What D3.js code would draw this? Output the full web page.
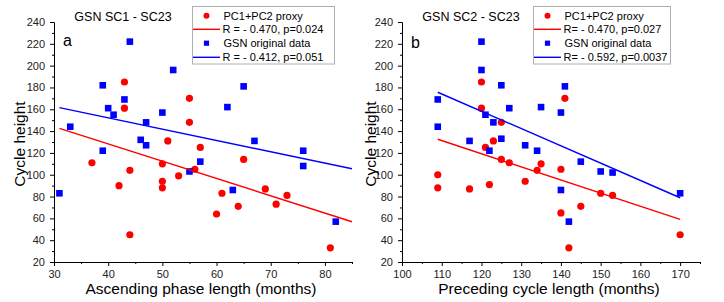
<!DOCTYPE html>
<html>
<head>
<meta charset="utf-8">
<script src="https://cdn.jsdelivr.net/npm/d3@7"></script>
<style>
  body { margin: 0; background: #fff; }
  svg { display: block; font-family: "Liberation Sans", Arial, sans-serif; }
  .tick text { fill: #222; font-size: 11px; }
  .axis path, .axis line { stroke: #000; }
</style>
</head>
<body>
<svg id="svg" width="724" height="302"></svg>
<script>
// panel a : ascending phase length vs cycle height
var ascRedX  = [43, 43, 55, 55, 51, 57, 37, 44, 42, 44, 50, 50, 50, 53, 56, 65, 61, 60, 64, 69, 71, 73, 81];
var ascRedY  = [185, 161, 170, 148, 131, 125, 111, 104, 90, 45, 110, 94, 88, 99, 105, 114, 83, 64, 71, 87, 73, 81, 33];
var ascBlueX = [33, 39, 44, 40, 41, 43, 47, 46, 47, 50, 52, 39, 62, 65, 67, 76, 55, 57, 63, 76, 82, 31];
var ascBlueY = [144, 182, 222, 161, 155, 169, 148, 132, 127, 157, 196, 122, 162, 181, 131, 122, 103, 112, 86, 108, 57, 83];
// fitted lines, end points
var ascFitX     = [31, 85];
var ascFitRedY  = [142.5, 56.9];
var ascFitBlueY = [161.5, 105.5];

// panel b : preceding cycle length vs cycle height
var preRedX  = [120, 120, 125, 123, 121, 141, 109, 109, 117, 122, 125, 127, 131, 134, 135, 140, 140, 142, 145, 150, 153, 170];
var preRedY  = [185, 161, 148, 131, 125, 170, 100, 88, 87, 91, 114, 111, 94, 104, 110, 105, 65, 33, 71, 83, 81, 45];
var preBlueX = [109, 109, 120, 120, 125, 121, 123, 117, 125, 127, 135, 140, 141, 131, 122, 134, 145, 150, 153, 140, 142, 170];
var preBlueY = [169, 144, 222, 196, 182, 155, 148, 131, 133, 161, 162, 157, 181, 127, 122, 122, 112, 103, 102, 86, 57, 83];
var preFitX     = [109, 170];
var preFitRedY  = [132.5, 59.1];
var preFitBlueY = [175.6, 78.9];

var yTicks  = [20, 40, 60, 80, 100, 120, 140, 160, 180, 200, 220, 240];
var yMinor  = [30, 50, 70, 90, 110, 130, 150, 170, 190, 210, 230];
var ascTicks = [30, 40, 50, 60, 70, 80];
var ascMinor = [35, 45, 55, 65, 75, 85];
var preTicks = [100, 110, 120, 130, 140, 150, 160, 170];
var preMinor = [105, 115, 125, 135, 145, 155, 165, 175];

var svg = d3.select("#svg");

var panels = [
  {
    title: "GSN SC1 - SC23", letter: "a", xlabel: "Ascending phase length (months)",
    xdom: [30, 85], xr: [54, 352], ticks: ascTicks, minor: ascMinor,
    redX: ascRedX, redY: ascRedY, blueX: ascBlueX, blueY: ascBlueY,
    fitX: ascFitX, fitRed: ascFitRedY, fitBlue: ascFitBlueY,
    legend: ["PC1+PC2 proxy", "R = - 0.470, p=0.024", "GSN original data", "R = - 0.412, p=0.051"],
    legBox: [192, 334], ylabX: 25, letterDy: 0
  },
  {
    title: "GSN SC2 - SC23", letter: "b", xlabel: "Preceding cycle length (months)",
    xdom: [100, 175], xr: [402, 700], ticks: preTicks, minor: preMinor,
    redX: preRedX, redY: preRedY, blueX: preBlueX, blueY: preBlueY,
    fitX: preFitX, fitRed: preFitRedY, fitBlue: preFitBlueY,
    legend: ["PC1+PC2 proxy", "R= - 0.470, p=0.027", "GSN original data", "R= - 0.592, p=0.0037"],
    legBox: [533, 670], ylabX: 376, letterDy: 2
  }
];

var y = d3.scaleLinear().domain([20, 240]).range([262, 22]);

panels.forEach(function(p) {
  var x = d3.scaleLinear().domain(p.xdom).range(p.xr);
  var g = svg.append("g");

  // axes, major and minor ticks
  g.append("g").attr("class", "axis").attr("transform", "translate(0,262)")
    .call(d3.axisBottom(x).tickValues(p.minor).tickSize(2).tickSizeOuter(0).tickFormat(""));
  g.append("g").attr("class", "axis").attr("transform", "translate(0,262)")
    .call(d3.axisBottom(x).tickValues(p.ticks).tickSize(4).tickSizeOuter(0).tickPadding(4));
  g.append("g").attr("class", "axis").attr("transform", "translate(" + p.xr[0] + ",0)")
    .call(d3.axisLeft(y).tickValues(yMinor).tickSize(2).tickSizeOuter(0).tickFormat(""));
  g.append("g").attr("class", "axis").attr("transform", "translate(" + p.xr[0] + ",0)")
    .call(d3.axisLeft(y).tickValues(yTicks).tickSize(4).tickSizeOuter(0).tickPadding(5));
  g.selectAll(".axis text").attr("font-family", null);

  // axis labels
  var cx = (p.xr[0] + p.xr[1]) / 2 - 2;
  g.append("text").attr("x", cx).attr("y", 294).attr("text-anchor", "middle")
    .style("font-size", "15.5px").text(p.xlabel);
  g.append("text").attr("transform", "translate(" + p.ylabX + ",144) rotate(-90)")
    .attr("text-anchor", "middle").style("font-size", "15.5px").text("Cycle height");

  // title and panel letter
  g.append("text").attr("x", p.xr[0] + 69).attr("y", 21).attr("text-anchor", "middle")
    .style("font-size", "12.5px").text(p.title);
  g.append("text").attr("x", p.xr[0] + 9).attr("y", 46 + p.letterDy)
    .style("font-size", "16px").text(p.letter);

  // points
  g.selectAll("circle.pt").data(p.redX).enter().append("circle")
    .attr("class", "pt")
    .attr("cx", function(d) { return x(d); })
    .attr("cy", function(d, i) { return y(p.redY[i]); })
    .attr("r", 3.6).attr("fill", "#ff0000");
  g.selectAll("rect.pt").data(p.blueX).enter().append("rect")
    .attr("class", "pt")
    .attr("x", function(d) { return x(d) - 3.3; })
    .attr("y", function(d, i) { return y(p.blueY[i]) - 3.3; })
    .attr("width", 6.6).attr("height", 6.6).attr("fill", "#0000ff");

  // fitted lines
  var line = d3.line().x(function(d) { return x(d[0]); }).y(function(d) { return y(d[1]); });
  g.append("path").datum(d3.zip(p.fitX, p.fitRed)).attr("d", line)
    .attr("fill", "none").attr("stroke", "#ff0000").attr("stroke-width", 1.4);
  g.append("path").datum(d3.zip(p.fitX, p.fitBlue)).attr("d", line)
    .attr("fill", "none").attr("stroke", "#0000ff").attr("stroke-width", 1.4);

  // legend
  var lx0 = p.legBox[0], lx1 = p.legBox[1];
  var lg = g.append("g");
  lg.append("rect").attr("x", lx0 + 0.5).attr("y", 6.5).attr("width", lx1 - lx0).attr("height", 57.5)
    .attr("fill", "#fff").attr("stroke", "#b0b0b0").attr("stroke-width", 1);
  var rows = [15.7, 29.3, 43.2, 57.3];
  var mx = lx0 + 14.5;
  lg.append("circle").attr("cx", mx).attr("cy", rows[0]).attr("r", 3).attr("fill", "#ff0000");
  lg.append("line").attr("x1", lx0 + 1).attr("x2", lx0 + 28).attr("y1", rows[1]).attr("y2", rows[1])
    .attr("stroke", "#ff0000").attr("stroke-width", 1.4);
  lg.append("rect").attr("x", mx - 2.6).attr("y", rows[2] - 2.6).attr("width", 5.2).attr("height", 5.2)
    .attr("fill", "#0000ff");
  lg.append("line").attr("x1", lx0 + 1).attr("x2", lx0 + 28).attr("y1", rows[3]).attr("y2", rows[3])
    .attr("stroke", "#0000ff").attr("stroke-width", 1.4);
  p.legend.forEach(function(t, i) {
    lg.append("text").attr("x", lx0 + (i % 2 === 0 ? 31.5 : 30.5)).attr("y", rows[i] + 4)
      .style("font-size", "11px").attr("fill", "#000").text(t);
  });
});
</script>
</body>
</html>
